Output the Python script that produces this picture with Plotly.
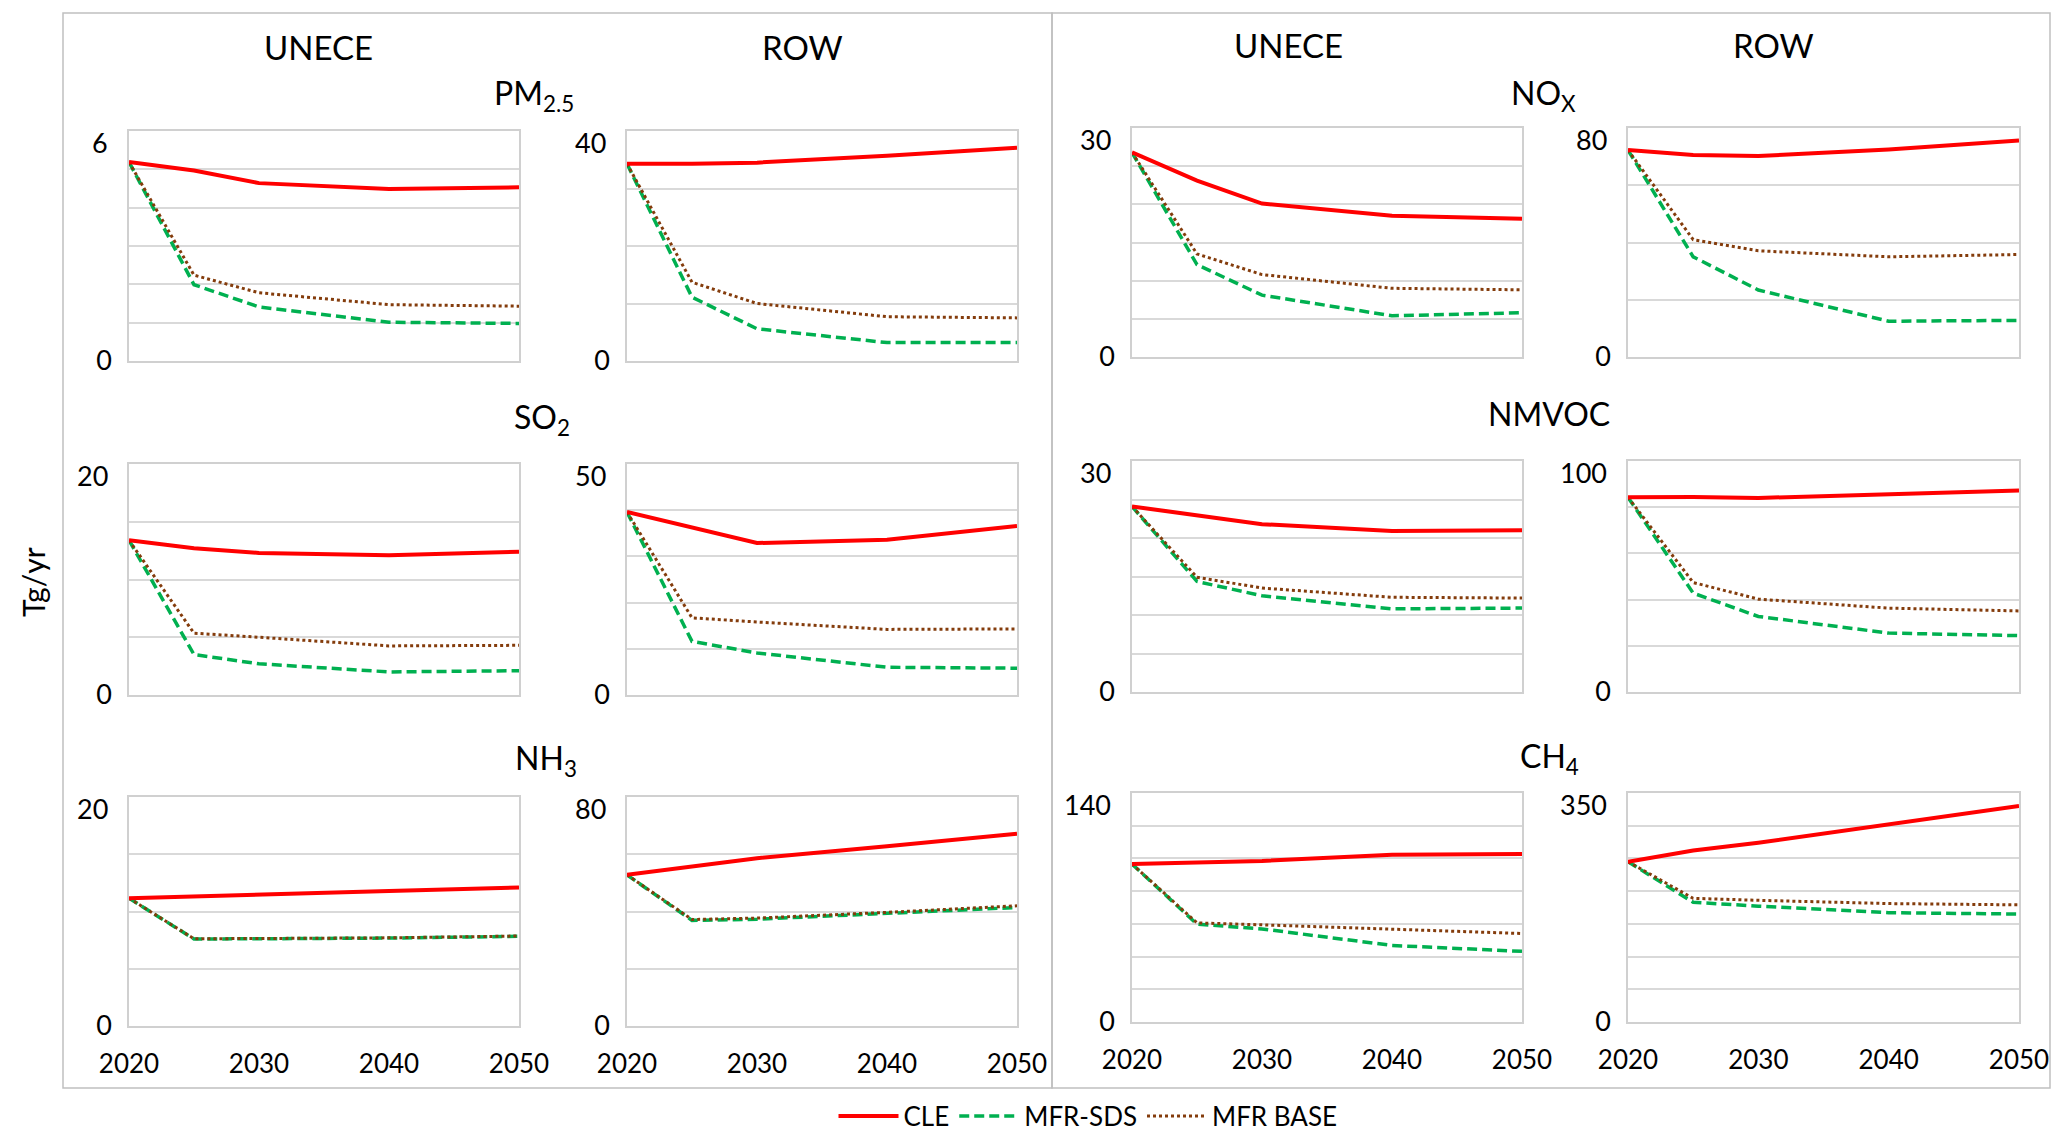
import plotly.graph_objects as go

# ---------------- data ----------------
years = [2020, 2025, 2030, 2040, 2050]
x_tick_years = [2020, 2030, 2040, 2050]
series_names = ["CLE", "MFR-SDS", "MFR BASE"]
column_titles = ["UNECE", "ROW", "UNECE", "ROW"]
pollutant_titles = ["PM<sub>2.5</sub>", "NO<sub>X</sub>", "SO<sub>2</sub>", "NMVOC", "NH<sub>3</sub>", "CH<sub>4</sub>"]
y_axis_title = "Tg/yr"

pm25_unece_cle = [5.19, 4.97, 4.64, 4.49, 4.53]
pm25_unece_sds = [5.19, 1.99, 1.41, 1.01, 0.98]
pm25_unece_base = [5.19, 2.24, 1.78, 1.47, 1.43]
pm25_row_cle = [34.3, 34.3, 34.5, 35.7, 37.1]
pm25_row_sds = [34.3, 11.1, 5.6, 3.2, 3.2]
pm25_row_base = [34.3, 13.7, 10.0, 7.7, 7.5]

nox_unece_cle = [26.8, 23.1, 20.1, 18.5, 18.1]
nox_unece_sds = [26.8, 12.1, 8.1, 5.4, 5.8]
nox_unece_base = [26.8, 13.5, 10.8, 9.0, 8.8]
nox_row_cle = [72.3, 70.6, 70.2, 72.5, 75.6]
nox_row_sds = [72.3, 35.0, 23.4, 12.5, 12.8]
nox_row_base = [72.3, 41.0, 37.1, 35.0, 35.8]

so2_unece_cle = [13.4, 12.7, 12.3, 12.1, 12.4]
so2_unece_sds = [13.4, 3.5, 2.7, 2.0, 2.1]
so2_unece_base = [13.4, 5.35, 5.0, 4.25, 4.3]
so2_row_cle = [39.6, 36.3, 32.9, 33.6, 36.6]
so2_row_sds = [39.6, 11.6, 9.1, 6.0, 5.8]
so2_row_base = [39.6, 16.7, 15.8, 14.2, 14.3]

nmvoc_unece_cle = [24.1, 23.0, 21.8, 20.9, 21.0]
nmvoc_unece_sds = [24.1, 14.35, 12.5, 10.8, 10.9]
nmvoc_unece_base = [24.1, 14.9, 13.5, 12.3, 12.2]
nmvoc_row_cle = [84.3, 84.4, 84.0, 85.4, 87.2]
nmvoc_row_sds = [84.3, 42.8, 32.7, 25.5, 24.4]
nmvoc_row_base = [84.3, 47.4, 40.2, 36.3, 35.1]

nh3_unece_cle = [11.16, 11.3, 11.5, 11.8, 12.1]
nh3_unece_sds = [11.16, 7.6, 7.62, 7.68, 7.83]
nh3_unece_base = [11.16, 7.62, 7.64, 7.70, 7.86]
nh3_row_cle = [52.8, 55.7, 58.6, 62.8, 67.2]
nh3_row_sds = [52.8, 36.9, 37.3, 39.2, 41.4]
nh3_row_base = [52.8, 37.2, 37.7, 39.7, 42.0]

ch4_unece_cle = [96.6, 97.6, 98.5, 102.3, 102.7]
ch4_unece_sds = [96.6, 59.8, 56.9, 46.8, 43.2]
ch4_unece_base = [96.6, 60.6, 59.4, 56.9, 54.1]
ch4_row_cle = [245, 262, 274, 302, 330]
ch4_row_sds = [245, 183, 177, 167, 165]
ch4_row_base = [245, 189, 186, 181, 179]

# axis maxima and grid steps per panel
pm25_unece_axis = (6, 1)
pm25_row_axis = (40, 10)
nox_unece_axis = (30, 5)
nox_row_axis = (80, 20)
so2_unece_axis = (20, 5)
so2_row_axis = (50, 10)
nmvoc_unece_axis = (30, 5)
nmvoc_row_axis = (100, 20)
nh3_unece_axis = (20, 5)
nh3_row_axis = (80, 20)
ch4_unece_axis = (140, 20)
ch4_row_axis = (350, 50)

# ---------------- layout geometry (page pixels) ----------------
PAGE_OFF = 8            # default body margin of the html page
FW, FH = 2059, 1128     # figure size so that it fits the 2067x1136 window
FONT = "Lato, 'Open Sans', sans-serif"
col_x = [(129, 519), (627, 1017), (1132, 1522), (1628, 2019)]
row_y_left = [(131, 361), (464, 695), (797, 1026)]
row_y_right = [(128, 357), (461, 692), (793, 1022)]

panels = [
    # row, col, cle, sds, base, axis
    (0, 0, pm25_unece_cle, pm25_unece_sds, pm25_unece_base, pm25_unece_axis),
    (0, 1, pm25_row_cle, pm25_row_sds, pm25_row_base, pm25_row_axis),
    (0, 2, nox_unece_cle, nox_unece_sds, nox_unece_base, nox_unece_axis),
    (0, 3, nox_row_cle, nox_row_sds, nox_row_base, nox_row_axis),
    (1, 0, so2_unece_cle, so2_unece_sds, so2_unece_base, so2_unece_axis),
    (1, 1, so2_row_cle, so2_row_sds, so2_row_base, so2_row_axis),
    (1, 2, nmvoc_unece_cle, nmvoc_unece_sds, nmvoc_unece_base, nmvoc_unece_axis),
    (1, 3, nmvoc_row_cle, nmvoc_row_sds, nmvoc_row_base, nmvoc_row_axis),
    (2, 0, nh3_unece_cle, nh3_unece_sds, nh3_unece_base, nh3_unece_axis),
    (2, 1, nh3_row_cle, nh3_row_sds, nh3_row_base, nh3_row_axis),
    (2, 2, ch4_unece_cle, ch4_unece_sds, ch4_unece_base, ch4_unece_axis),
    (2, 3, ch4_row_cle, ch4_row_sds, ch4_row_base, ch4_row_axis),
]

line_styles = {
    "CLE": dict(color="#FF0000", width=4, dash="solid"),
    "MFR-SDS": dict(color="#00B050", width=3.5, dash="10px,5px"),
    "MFR BASE": dict(color="#843C0C", width=3, dash="3px,3px"),
}
legend_rank = {"CLE": 1, "MFR-SDS": 2, "MFR BASE": 3}
tick_font = dict(family=FONT, size=27, color="#000000")


def px_x(x):
    return (x - PAGE_OFF) / FW


def px_y(y):
    return 1 - (y - PAGE_OFF) / FH


fig = go.Figure()
layout_axes = {}
annotations = []

for i, (r, c, cle, sds, base, axis) in enumerate(panels, start=1):
    ymax, ystep = axis
    x0, x1 = col_x[c]
    y0, y1 = (row_y_left if c < 2 else row_y_right)[r]
    xa = "xaxis" if i == 1 else f"xaxis{i}"
    ya = "yaxis" if i == 1 else f"yaxis{i}"
    xref = "x" if i == 1 else f"x{i}"
    yref = "y" if i == 1 else f"y{i}"

    for name, vals in (("MFR-SDS", sds), ("MFR BASE", base), ("CLE", cle)):
        fig.add_trace(go.Scatter(
            x=years, y=vals, mode="lines", name=name,
            line=line_styles[name], xaxis=xref, yaxis=yref,
            legendgroup=name, showlegend=(i == 1), legendrank=legend_rank[name],
            hoverinfo="skip",
        ))

    gridvals = list(range(0, ymax + 1, ystep))
    gridtext = ["0" if v == 0 else " " for v in gridvals]

    layout_axes[xa] = dict(
        domain=[px_x(x0), px_x(x1)], anchor=yref, range=[2020, 2050],
        tickmode="array", tickvals=x_tick_years,
        ticktext=[str(v) for v in x_tick_years],
        showticklabels=(r == 2), ticks="", showgrid=False, zeroline=False,
        showline=True, linecolor="#D0D0D0", linewidth=1.5, mirror=True,
        tickfont=dict(family=FONT, size=26, color="#000000"),
        ticklabelstandoff=14, fixedrange=True, automargin=False,
    )
    layout_axes[ya] = dict(
        domain=[px_y(y1), px_y(y0)], anchor=xref, range=[0, ymax],
        tickmode="array", tickvals=gridvals, ticktext=gridtext,
        ticks="", showgrid=True, gridcolor="#D9D9D9", gridwidth=1.5,
        zeroline=False, showline=True, linecolor="#D0D0D0", linewidth=1.5,
        mirror=True, tickfont=tick_font,
        ticklabelstandoff=10, fixedrange=True, automargin=False,
    )
    # the axis maximum is labelled a little below the top edge (as in the original)
    annotations.append(dict(text=str(ymax), xref=f"{xref} domain", yref=yref,
                            x=0, y=ymax, xanchor="right", yanchor="middle",
                            xshift=-19, yshift=-11, showarrow=False, font=tick_font))

col_title_pos = [(318, 47), (802, 47), (1288, 45), (1773, 45)]
for text, (x, y) in zip(column_titles, col_title_pos):
    annotations.append(dict(text=text, x=px_x(x), y=px_y(y), xref="paper", yref="paper",
                            showarrow=False, xanchor="center", yanchor="middle",
                            font=dict(family=FONT, size=33, color="#000000")))

poll_title_pos = [(534, 95), (1543, 95), (542, 419), (1549, 413), (546, 760), (1549, 758)]
for text, (x, y) in zip(pollutant_titles, poll_title_pos):
    annotations.append(dict(text=text, x=px_x(x), y=px_y(y), xref="paper", yref="paper",
                            showarrow=False, xanchor="center", yanchor="middle",
                            font=dict(family=FONT, size=32, color="#000000")))

annotations.append(dict(text=y_axis_title, x=px_x(33), y=px_y(582), xref="paper", yref="paper",
                        showarrow=False, textangle=-90, xanchor="center", yanchor="middle",
                        font=dict(family=FONT, size=30, color="#000000")))

shapes = [
    dict(type="rect", xref="paper", yref="paper", x0=px_x(63), x1=px_x(1052),
         y0=px_y(1088), y1=px_y(13), line=dict(color="#C0C0C0", width=1.5), layer="below"),
    dict(type="rect", xref="paper", yref="paper", x0=px_x(1052), x1=px_x(2050),
         y0=px_y(1088), y1=px_y(13), line=dict(color="#C0C0C0", width=1.5), layer="below"),
]

fig.update_layout(
    width=FW, height=FH, autosize=False,
    margin=dict(l=0, r=0, t=0, b=0, pad=0, autoexpand=False),
    paper_bgcolor="#FFFFFF", plot_bgcolor="#FFFFFF",
    font=dict(family=FONT, size=26, color="#000000"),
    showlegend=True,
    legend=dict(orientation="h", x=px_x(1088), y=px_y(1116), xanchor="center", yanchor="middle",
                font=dict(family=FONT, size=26, color="#000000"), itemwidth=60,
                bgcolor="rgba(0,0,0,0)", traceorder="normal"),
    annotations=annotations, shapes=shapes,
    **layout_axes,
)

fig.write_html("out.html")
